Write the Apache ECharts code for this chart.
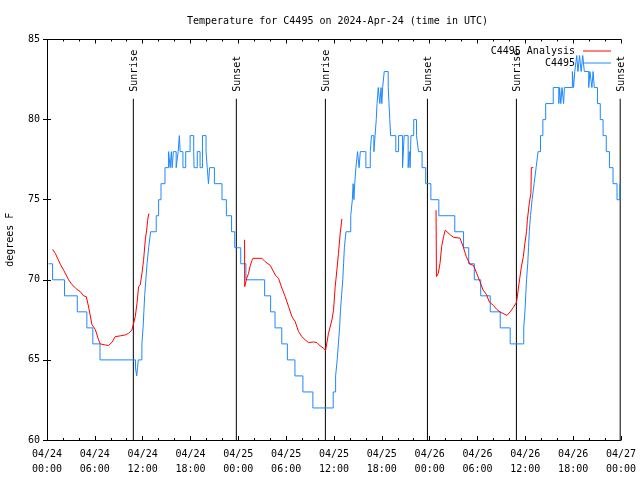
<!DOCTYPE html>
<html>
<head>
<meta charset="utf-8">
<script src="https://cdn.jsdelivr.net/npm/echarts@6/dist/echarts.min.js"></script>
<style>html,body{margin:0;padding:0;background:#fff;}#c{width:640px;height:480px;}</style>
</head>
<body>
<div id="c"></div>
<script>
// x values are hours since 2024-04-24 00:00 UTC
const tickLabels = ['04/24\n00:00','04/24\n06:00','04/24\n12:00','04/24\n18:00','04/25\n00:00','04/25\n06:00','04/25\n12:00','04/25\n18:00','04/26\n00:00','04/26\n06:00','04/26\n12:00','04/26\n18:00','04/27\n00:00'];

const sunNames = ['Sunrise','Sunset','Sunrise','Sunset','Sunrise','Sunset'];
const sunTimes = [10.83, 23.75, 34.92, 47.72, 58.88, 71.9];

const analysisDay1 = [[0.7,71.9],[1.04,71.65],[1.67,70.97],[2.09,70.6],[2.71,70.0],[3.13,69.7],[3.76,69.4],[4.18,69.26],[4.59,69.0],[4.93,68.95],[5.22,68.3],[5.64,67.2],[6.06,66.9],[6.47,66.25],[6.68,66.0],[7.31,65.93],[7.73,65.9],[8.15,66.1],[8.56,66.45],[9.19,66.5],[9.82,66.56],[10.23,66.66],[10.66,66.87],[10.86,66.97],[11.07,67.7],[11.28,68.5],[11.49,69.57],[11.70,69.7],[11.91,70.4],[12.11,71.2],[12.33,72.5],[12.5,73.1],[12.62,73.7],[12.75,74.1],[12.85,74.1]];
const analysisDay2 = [[24.78,72.5],[24.8,69.57],[24.95,69.47],[25.05,70.1],[25.28,70.4],[25.45,70.8],[25.7,71.2],[25.83,71.34],[26.96,71.34],[27.37,71.13],[28.0,70.9],[28.63,70.3],[29.04,70.09],[29.47,69.47],[29.88,68.95],[30.30,68.33],[30.72,67.7],[31.13,67.39],[31.55,66.77],[31.97,66.45],[32.39,66.25],[32.80,66.08],[33.43,66.12],[33.86,66.08],[34.27,65.87],[34.69,65.73],[34.94,65.58],[35.31,66.66],[35.74,67.5],[35.94,68.1],[36.15,69.57],[36.36,70.6],[36.56,71.65],[36.78,72.9],[36.99,73.8]];
const analysisDay3 = [[48.8,74.35],[48.85,70.2],[49.0,70.2],[49.08,70.4],[49.3,71.03],[49.5,72.07],[49.75,72.7],[49.95,73.1],[50.6,72.8],[51.0,72.65],[51.8,72.6],[52.2,72.07],[52.6,71.44],[53.05,70.97],[53.5,70.9],[53.9,70.4],[54.3,69.9],[54.7,69.36],[55.1,69.1],[55.5,68.6],[56.0,68.4],[56.4,68.16],[56.8,68.0],[57.2,67.9],[57.7,67.78],[58.1,68.0],[58.5,68.28],[58.9,68.6],[59.1,69.36],[59.3,70.1],[59.5,70.8],[59.75,71.44],[59.95,72.3],[60.15,73.0],[60.25,73.7],[60.5,74.8],[60.7,75.4],[60.75,77.0],[61.0,77.0]];

const observed = [[0.2,71],[0.7,70],[2.2,69],[3.8,68],[5.0,67],[5.75,66],[6.65,65],[11.1,64.5],[11.25,64],[11.35,64.5],[11.45,65],[11.9,66],[12.05,67],[12.15,68],[12.25,69],[12.4,70],[12.55,71],[12.75,72],[13.0,73],[13.7,74],[14.0,75],[14.3,76],[14.8,77],[15.25,78],[15.45,77],[15.6,78],[15.7,77],[15.85,78],[16.2,77],[16.45,78],[16.6,79],[16.7,78],[17.05,77],[17.4,78],[17.95,79],[18.4,78],[18.45,77],[18.85,78],[19.2,77],[19.5,79],[19.95,78],[20.1,77],[20.25,76],[20.4,77],[21.0,76],[21.95,75],[22.5,74],[23.15,73],[23.55,72],[24.3,71],[24.95,70],[27.3,69],[28.05,68],[28.6,67],[29.45,66],[30.15,65],[31.1,64],[32.1,63],[33.35,62],[35.9,63],[36.2,64],[36.4,65],[36.55,66],[36.7,67],[36.8,68],[36.95,69],[37.1,70],[37.2,71],[37.3,72],[37.5,73],[38.1,74],[38.3,75],[38.4,76],[38.5,75],[38.6,76],[38.75,77],[38.95,78],[39.15,77],[39.3,78],[40.0,77],[40.55,78],[40.7,79],[41.0,78],[41.15,79],[41.3,80],[41.4,81],[41.55,82],[41.75,81],[41.9,82],[42.0,81],[42.1,82],[42.3,83],[42.8,82],[42.9,81],[43.0,80],[43.1,79],[43.75,78],[44.1,79],[44.6,77],[44.8,79],[45.3,77],[45.45,78],[45.55,77],[45.65,79],[46.0,80],[46.35,79],[46.6,78],[47.05,77],[47.5,76],[48.15,75],[49.15,74],[51.15,73],[52.25,72],[52.9,71],[53.6,70],[54.4,69],[55.6,68],[56.85,67],[58.1,66],[59.8,67],[59.95,68],[60.05,69],[60.15,70],[60.3,71],[60.4,72],[60.5,73],[60.65,74],[60.85,75],[61.1,76],[61.35,77],[61.6,78],[61.9,79],[62.2,80],[62.55,81],[63.5,82],[64.2,81],[64.3,82],[64.45,81],[64.6,82],[64.8,81],[64.9,82],[65.9,83],[66.05,82],[66.2,83],[66.45,84],[66.6,83],[66.8,84],[67.0,83],[67.2,84],[67.4,83],[67.95,82],[68.1,83],[68.35,82],[68.5,83],[68.65,82],[69.05,81],[69.4,80],[69.75,79],[70.15,78],[70.55,77],[71.0,76],[71.5,75],[71.85,76],[72.0,76]];

const analysis = [].concat(analysisDay1, [[18,'-']], analysisDay2, [[42,'-']], analysisDay3);

const FONT = '"DejaVu Sans Mono", "Liberation Mono", monospace';
const chart = echarts.init(document.getElementById('c'), null, {renderer:'canvas'});

const xCommon = {
  type:'value', min:0, max:72, interval:6,
  axisLine:{show:true, lineStyle:{color:'#000', width:1}},
  axisTick:{show:true, inside:true, length:4, lineStyle:{color:'#000'}},
  minorTick:{show:true, splitNumber:3, length:2, lineStyle:{color:'#000'}},
  splitLine:{show:false}, minorSplitLine:{show:false}
};
const yCommon = {
  type:'value', min:60, max:85, interval:5,
  axisLine:{show:true, lineStyle:{color:'#000', width:1}},
  axisTick:{show:true, inside:true, length:4, lineStyle:{color:'#000'}},
  splitLine:{show:false}
};

chart.setOption({
  animation:false,
  backgroundColor:'#fff',
  title:{text:'Temperature for C4495 on 2024-Apr-24 (time in UTC)', left:182, top:11,
    textStyle:{fontFamily:FONT, fontSize:10, fontWeight:'normal', color:'#000'}},
  grid:{left:47, right:19, top:39.5, bottom:40, containLabel:false, outerBoundsMode:'none'},
  legend:{
    data:[{name:'C4495 Analysis', icon:'rect'},{name:'C4495', icon:'rect'}],
    orient:'vertical', right:24, top:40, align:'right',
    itemWidth:28, itemHeight:1, itemGap:0,
    textStyle:{fontFamily:FONT, fontSize:10, color:'#000', lineHeight:12, padding:[0,3,0,0]}
  },
  xAxis:[
    Object.assign({}, xCommon, {position:'bottom',
      axisLabel:{show:true, margin:7, fontFamily:FONT, fontSize:10, color:'#000', lineHeight:15,
        formatter:(v)=>tickLabels[Math.round(v/6)]}}),
    Object.assign({}, xCommon, {position:'top', axisLabel:{show:false}})
  ],
  yAxis:[
    Object.assign({}, yCommon, {position:'left', name:'degrees F', nameLocation:'middle', nameGap:32, nameRotate:90,
      nameTextStyle:{fontFamily:FONT, fontSize:10, color:'#000'},
      axisLabel:{show:true, margin:7, fontFamily:FONT, fontSize:10, color:'#000'}}),
    Object.assign({}, yCommon, {position:'right', axisLabel:{show:false}})
  ],
  series:[
    {
      name:'sun', type:'custom', xAxisIndex:0, yAxisIndex:0, clip:false, silent:true, z:1,
      data: sunTimes.map(t=>[t]),
      encode:{x:0},
      renderItem:(params, api)=>{
        const t = api.value(0);
        const p0 = api.coord([t, 60]);
        const p1 = api.coord([t, 81.3]);
        return {type:'group', children:[
          {type:'line', shape:{x1:p0[0], y1:p0[1], x2:p1[0], y2:p1[1]}, style:{stroke:'#000', lineWidth:1}},
          {type:'text', x:p1[0]+1, y:p1[1]-7, rotation:Math.PI/2,
            style:{text:sunNames[params.dataIndex], fill:'#000', font:'10px '+FONT,
              align:'left', verticalAlign:'middle', textAlign:'left', textVerticalAlign:'middle'}}
        ]};
      }
    },
    {
      name:'C4495', type:'line', data:observed, step:'end', showSymbol:false, symbol:'none',
      lineStyle:{color:'#1e88ff', width:1}, itemStyle:{color:'#1e88ff'}, z:2
    },
    {
      name:'C4495 Analysis', type:'line', data:analysis, showSymbol:false, symbol:'none', connectNulls:false,
      lineStyle:{color:'#ff0000', width:1}, itemStyle:{color:'#ff0000'}, z:3
    }
  ]
});
</script>
</body>
</html>
